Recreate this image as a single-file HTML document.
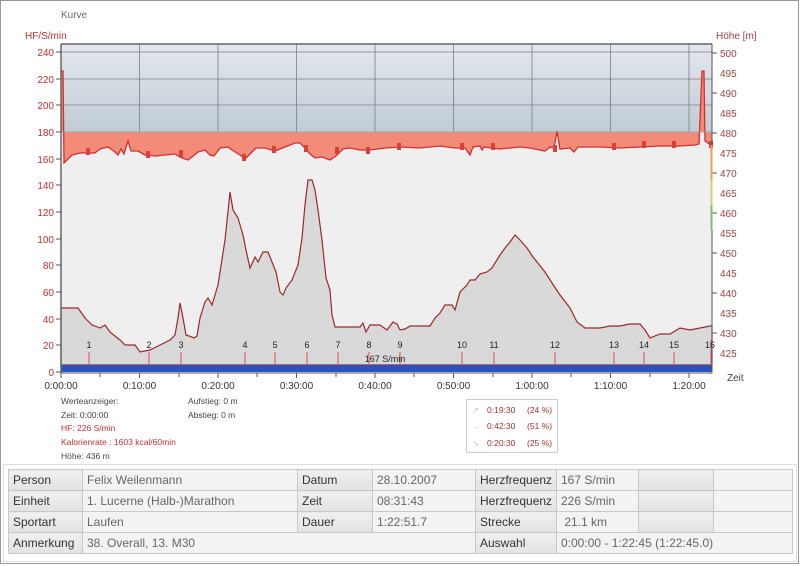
<!DOCTYPE html>
<html><head><meta charset="utf-8"><style>
body{margin:0;background:#fff;font-family:"Liberation Sans",sans-serif;}
#w{position:relative;width:800px;height:566px;overflow:hidden;background:#fff;}
svg text{font-family:"Liberation Sans",sans-serif;}
table{position:absolute;left:8px;top:469px;width:784px;table-layout:fixed;border-collapse:collapse;font-size:12px;color:#666;}
td{border:1px solid #c8c8c8;height:20px;padding:0 4px;background:#f3f3f3;white-space:nowrap;overflow:hidden;}
td.l{background:linear-gradient(#f0f0f0,#e2e2e2);color:#333;}
</style></head><body><div id="w">
<svg width="800" height="566" style="position:absolute;left:0;top:0">
<defs><linearGradient id="bg" x1="0" y1="0" x2="0" y2="1"><stop offset="0" stop-color="#e4e8ee"/><stop offset="1" stop-color="#c0cbd5"/></linearGradient></defs>
<rect x="0.5" y="0.5" width="798" height="563" fill="none" stroke="#999"/>
<text x="61" y="18" font-size="10" fill="#666">Kurve</text>
<text x="25" y="39" font-size="10" fill="#c03030">HF/S/min</text>
<text x="716" y="39" font-size="10" fill="#a04040">Höhe [m]</text>
<rect x="61" y="44" width="651" height="88" fill="url(#bg)"/>
<rect x="61" y="132" width="651" height="240" fill="#efefef"/>
<g stroke="#7a7f85" stroke-width="0.8">
<line x1="61" y1="52" x2="712" y2="52"/><line x1="61" y1="79" x2="712" y2="79"/><line x1="61" y1="105" x2="712" y2="105"/>
<line x1="139.5" y1="44" x2="139.5" y2="132"/><line x1="218" y1="44" x2="218" y2="132"/><line x1="296.5" y1="44" x2="296.5" y2="132"/><line x1="375" y1="44" x2="375" y2="132"/><line x1="453.5" y1="44" x2="453.5" y2="132"/><line x1="532" y1="44" x2="532" y2="132"/><line x1="610.5" y1="44" x2="610.5" y2="132"/><line x1="689" y1="44" x2="689" y2="132"/>
</g>
<path d="M61,132 L61,71 63,71 64,163 67,160 72,155 80,153 95,153 100,149 108,147 115,152 118,155 121,149 124,154 128,141 131,151 138,151 145,155 155,156 165,155 175,154 180,157 188,160 192,157 198,152 205,150 210,155 214,156 220,148 228,147 232,150 240,155 245,159 250,154 256,148 265,148 275,151 285,147 295,143 300,143 305,148 310,154 315,158 322,157 330,160 336,156 343,149 350,148 360,150 370,150 385,148 400,147 420,148 440,146 455,148 465,148 470,155 473,147 480,146 482,150 484,147 500,149 520,147 530,148 545,151 550,147 554,148 557,131 560,149 570,148 574,152 578,147 600,147 620,148 640,147 660,146 680,146 695,145 699,144 702,71 704,71 705,141 711,145 712,145 712,132 Z" fill="#f28b77"/>
<path d="M61,71 63,71 64,163 67,160 72,155 80,153 95,153 100,149 108,147 115,152 118,155 121,149 124,154 128,141 131,151 138,151 145,155 155,156 165,155 175,154 180,157 188,160 192,157 198,152 205,150 210,155 214,156 220,148 228,147 232,150 240,155 245,159 250,154 256,148 265,148 275,151 285,147 295,143 300,143 305,148 310,154 315,158 322,157 330,160 336,156 343,149 350,148 360,150 370,150 385,148 400,147 420,148 440,146 455,148 465,148 470,155 473,147 480,146 482,150 484,147 500,149 520,147 530,148 545,151 550,147 554,148 557,131 560,149 570,148 574,152 578,147 600,147 620,148 640,147 660,146 680,146 695,145 699,144 702,71 704,71 705,141 711,145 712,145" fill="none" stroke="#d03030" stroke-width="1.3"/>
<g fill="#d8403a">
<rect x="86" y="148" width="4" height="7"/><rect x="146" y="151" width="4" height="7"/><rect x="179" y="150" width="4" height="7"/><rect x="242" y="154" width="4" height="7"/><rect x="272" y="146" width="4" height="7"/><rect x="304" y="145" width="4" height="7"/><rect x="335" y="147" width="4" height="7"/><rect x="366" y="147" width="4" height="7"/><rect x="397" y="143" width="4" height="7"/><rect x="460" y="143" width="4" height="7"/><rect x="491" y="143" width="4" height="7"/><rect x="553" y="145" width="4" height="7"/><rect x="612" y="143" width="4" height="7"/><rect x="642" y="141" width="4" height="7"/><rect x="672" y="141" width="4" height="7"/><rect x="709" y="141" width="4" height="7"/>
</g>
<line x1="61" y1="132" x2="712" y2="132" stroke="#9aa0a6" stroke-width="0.8"/>
<path d="M61,365 L61,308 78,308 85,318 92,325 100,328 105,325 110,332 120,340 125,345 135,345 140,352 150,350 160,345 170,340 175,335 178,318 180,303 183,318 186,335 192,337 194,338 197,336 200,318 205,302 208,298 212,305 218,285 225,240 230,192 233,210 238,218 243,235 246,250 250,268 255,257 258,262 263,252 268,252 272,262 276,272 280,292 283,295 286,288 292,280 298,265 302,238 305,205 308,180 312,180 315,190 318,210 322,240 326,278 330,290 332,315 335,327 360,327 363,323 366,332 370,325 380,325 387,330 393,322 397,324 400,330 405,329 410,326 430,326 435,318 440,313 445,305 452,305 455,310 460,292 467,285 470,280 475,280 480,274 487,272 492,268 500,255 505,248 510,242 515,235 520,240 527,248 533,257 545,272 552,283 560,295 570,308 577,322 585,328 600,328 610,326 620,326 630,324 640,324 645,330 650,338 660,334 670,334 680,328 690,330 700,328 710,326 712,326 712,365 Z" fill="#d9d9d9" stroke="#9b2a2a" stroke-width="1.2"/>
<rect x="61" y="365" width="651" height="7" fill="#2a52be"/>
<g stroke="#e05050" stroke-width="1">
<line x1="89" y1="352" x2="89" y2="365"/><line x1="149" y1="352" x2="149" y2="365"/><line x1="181" y1="352" x2="181" y2="365"/><line x1="245" y1="352" x2="245" y2="365"/><line x1="275" y1="352" x2="275" y2="365"/><line x1="307" y1="352" x2="307" y2="365"/><line x1="338" y1="352" x2="338" y2="365"/><line x1="369" y1="352" x2="369" y2="365"/><line x1="400" y1="352" x2="400" y2="365"/><line x1="462" y1="352" x2="462" y2="365"/><line x1="494" y1="352" x2="494" y2="365"/><line x1="555" y1="352" x2="555" y2="365"/><line x1="614" y1="352" x2="614" y2="365"/><line x1="644" y1="352" x2="644" y2="365"/><line x1="674" y1="352" x2="674" y2="365"/><line x1="711" y1="340" x2="711" y2="365"/>
</g>
<g font-size="9" fill="#222" text-anchor="middle">
<text x="89" y="348">1</text><text x="149" y="348">2</text><text x="181" y="348">3</text><text x="245" y="348">4</text><text x="275" y="348">5</text><text x="307" y="348">6</text><text x="338" y="348">7</text><text x="369" y="348">8</text><text x="400" y="348">9</text><text x="462" y="348">10</text><text x="494" y="348">11</text><text x="555" y="348">12</text><text x="614" y="348">13</text><text x="644" y="348">14</text><text x="674" y="348">15</text><text x="710" y="348">16</text>
<text x="385" y="362">167 S/min</text>
</g>
<line x1="61" y1="44" x2="712" y2="44" stroke="#666" stroke-width="1.5"/>
<line x1="61" y1="44" x2="61" y2="373" stroke="#666" stroke-width="1.5"/>
<line x1="61" y1="373" x2="712" y2="373" stroke="#555" stroke-width="1"/>
<line x1="712" y1="44" x2="712" y2="373" stroke="#555" stroke-width="1"/>
<g stroke="#555"><line x1="56" y1="52" x2="61" y2="52"/><line x1="56" y1="79" x2="61" y2="79"/><line x1="56" y1="105" x2="61" y2="105"/><line x1="56" y1="132" x2="61" y2="132"/><line x1="56" y1="159" x2="61" y2="159"/><line x1="56" y1="185" x2="61" y2="185"/><line x1="56" y1="212" x2="61" y2="212"/><line x1="56" y1="239" x2="61" y2="239"/><line x1="56" y1="265" x2="61" y2="265"/><line x1="56" y1="292" x2="61" y2="292"/><line x1="56" y1="319" x2="61" y2="319"/><line x1="56" y1="345" x2="61" y2="345"/><line x1="56" y1="372" x2="61" y2="372"/></g>
<g font-size="10" fill="#c03030" text-anchor="end">
<text x="54" y="56">240</text><text x="54" y="83">220</text><text x="54" y="109">200</text><text x="54" y="136">180</text><text x="54" y="163">160</text><text x="54" y="189">140</text><text x="54" y="216">120</text><text x="54" y="243">100</text><text x="54" y="269">80</text><text x="54" y="296">60</text><text x="54" y="323">40</text><text x="54" y="349">20</text><text x="54" y="376">0</text>
</g>
<g stroke="#555"><line x1="712" y1="53" x2="717" y2="53"/><line x1="712" y1="93" x2="717" y2="93"/><line x1="712" y1="133" x2="717" y2="133"/><line x1="712" y1="173" x2="717" y2="173"/><line x1="712" y1="213" x2="717" y2="213"/><line x1="712" y1="253" x2="717" y2="253"/><line x1="712" y1="293" x2="717" y2="293"/><line x1="712" y1="333" x2="717" y2="333"/></g>
<g font-size="10" fill="#a04040">
<text x="720" y="57">500</text><text x="720" y="77">495</text><text x="720" y="97">490</text><text x="720" y="117">485</text><text x="720" y="137">480</text><text x="720" y="157">475</text><text x="720" y="177">470</text><text x="720" y="197">465</text><text x="720" y="217">460</text><text x="720" y="237">455</text><text x="720" y="257">450</text><text x="720" y="277">445</text><text x="720" y="297">440</text><text x="720" y="317">435</text><text x="720" y="337">430</text><text x="720" y="357">425</text>
</g>
<rect x="710.5" y="145" width="2" height="35" fill="#e8a050"/><rect x="710.5" y="180" width="2" height="25" fill="#d8d070"/><rect x="710.5" y="205" width="2" height="25" fill="#80c070"/>
<g stroke="#555"><line x1="61" y1="373" x2="61" y2="378"/><line x1="100" y1="373" x2="100" y2="377"/><line x1="139.5" y1="373" x2="139.5" y2="378"/><line x1="179" y1="373" x2="179" y2="377"/><line x1="218" y1="373" x2="218" y2="378"/><line x1="257" y1="373" x2="257" y2="377"/><line x1="296.5" y1="373" x2="296.5" y2="378"/><line x1="336" y1="373" x2="336" y2="377"/><line x1="375" y1="373" x2="375" y2="378"/><line x1="414" y1="373" x2="414" y2="377"/><line x1="453.5" y1="373" x2="453.5" y2="378"/><line x1="493" y1="373" x2="493" y2="377"/><line x1="532" y1="373" x2="532" y2="378"/><line x1="571" y1="373" x2="571" y2="377"/><line x1="610.5" y1="373" x2="610.5" y2="378"/><line x1="650" y1="373" x2="650" y2="377"/><line x1="689" y1="373" x2="689" y2="378"/></g>
<g font-size="10" fill="#333" text-anchor="middle">
<text x="61" y="389">0:00:00</text><text x="139.5" y="389">0:10:00</text><text x="218" y="389">0:20:00</text><text x="296.5" y="389">0:30:00</text><text x="375" y="389">0:40:00</text><text x="453.5" y="389">0:50:00</text><text x="532" y="389">1:00:00</text><text x="610.5" y="389">1:10:00</text><text x="689" y="389">1:20:00</text>
</g>
<text x="727" y="381" font-size="10" fill="#444">Zeit</text>
<g font-size="8.5">
<text x="61" y="404" fill="#444">Werteanzeiger:</text>
<text x="61" y="418" fill="#444">Zeit: 0:00:00</text>
<text x="61" y="431" fill="#c03030">HF: 226 S/min</text>
<text x="61" y="445" fill="#c03030">Kalorienrate : 1603 kcal/60min</text>
<text x="61" y="459" fill="#444">Höhe: 436 m</text>
<text x="188" y="404" fill="#444">Aufstieg: 0 m</text>
<text x="188" y="418" fill="#444">Abstieg: 0 m</text>
</g>
<rect x="466.5" y="399.5" width="91" height="53" fill="#fff" stroke="#ccc"/>
<g font-size="8.5" fill="#a03030">
<text x="472" y="413" fill="#ccc">↗</text><text x="487" y="413">0:19:30</text><text x="527" y="413">(24 %)</text>
<text x="472" y="429" fill="#ccc">→</text><text x="487" y="429">0:42:30</text><text x="527" y="429">(51 %)</text>
<text x="472" y="446" fill="#ccc">↘</text><text x="487" y="446">0:20:30</text><text x="527" y="446">(25 %)</text>
</g>
<rect x="3.5" y="464.5" width="793" height="97" fill="none" stroke="#ddd"/>
</svg>
<table>
<colgroup><col style="width:74px"><col style="width:215px"><col style="width:75px"><col style="width:103px"><col style="width:81px"><col style="width:82px"><col style="width:75px"><col style="width:79px"></colgroup>
<tr><td class="l">Person</td><td>Felix Weilenmann</td><td class="l">Datum</td><td>28.10.2007</td><td class="l">Herzfrequenz Du</td><td>167 S/min</td><td class="l"></td><td></td></tr>
<tr><td class="l">Einheit</td><td>1. Lucerne (Halb-)Marathon</td><td class="l">Zeit</td><td>08:31:43</td><td class="l">Herzfrequenz ma</td><td>226 S/min</td><td class="l"></td><td></td></tr>
<tr><td class="l">Sportart</td><td>Laufen</td><td class="l">Dauer</td><td>1:22:51.7</td><td class="l">Strecke</td><td>&nbsp;21.1 km</td><td class="l"></td><td></td></tr>
<tr><td class="l">Anmerkung</td><td colspan="3">38. Overall, 13. M30</td><td class="l">Auswahl</td><td colspan="3">0:00:00 - 1:22:45 (1:22:45.0)</td></tr>
</table>
</div></body></html>
